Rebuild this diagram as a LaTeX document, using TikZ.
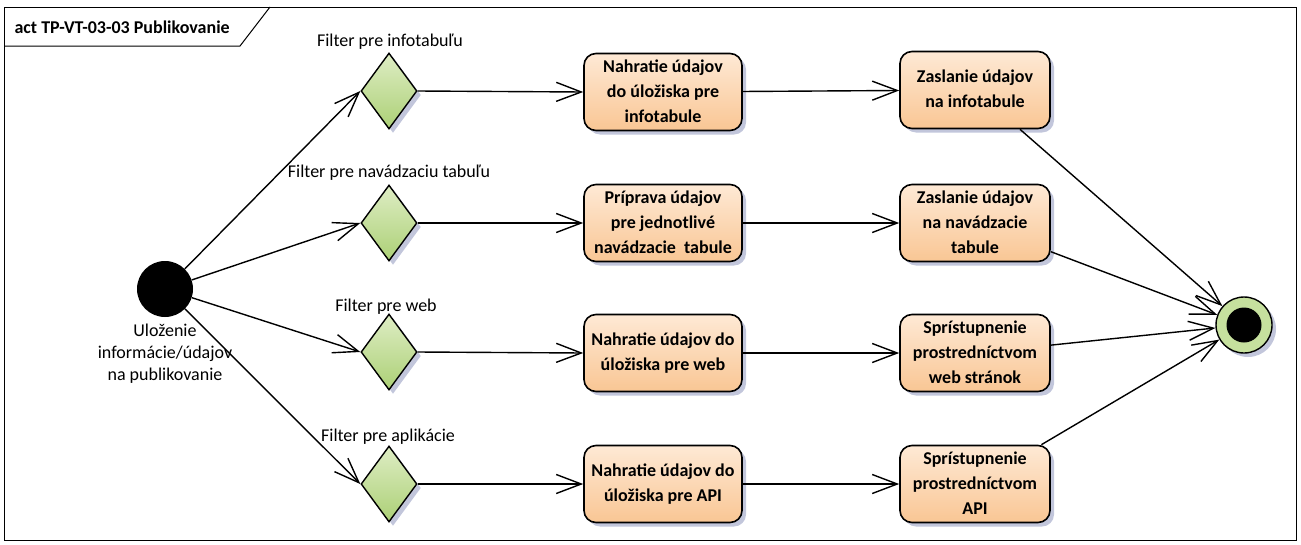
\documentclass[tikz,border=0pt]{standalone}
\usepackage{fontspec}
\setmainfont{Carlito}
\usetikzlibrary{arrows.meta,shapes.geometric,shadows}

\definecolor{boxtop}{RGB}{254,233,213}
\definecolor{boxbot}{RGB}{249,198,148}
\definecolor{dectop}{RGB}{222,237,196}
\definecolor{decbot}{RGB}{172,208,118}
\definecolor{finring}{RGB}{198,224,158}
\definecolor{shadowcol}{RGB}{168,174,204}

\begin{document}
\begin{tikzpicture}[x=1pt,y=-1pt,
  flow/.style={-{Straight Barb[length=25pt,width=19pt,line width=1.4pt]},line width=1.4pt},
  softshadow/.style={drop shadow={shadow xshift=4pt,shadow yshift=-4pt,fill=shadowcol,opacity=0.7}},
  action/.style={draw,line width=1.6pt,rounded corners=12pt,minimum height=77pt,
    inner sep=1pt,align=center,font=\fontsize{18}{25}\selectfont\bfseries,
    text depth=2pt,top color=boxtop,bottom color=boxbot,softshadow},
  actA/.style={action,minimum width=158pt},
  actB/.style={action,minimum width=150pt},
  decision/.style={diamond,draw,line width=1.4pt,inner sep=0pt,aspect=0.74,
    minimum width=56pt,minimum height=76pt,top color=dectop,bottom color=decbot,softshadow},
  guard/.style={font=\fontsize{18}{22}\selectfont},
]
\useasboundingbox (0,0) rectangle (1301,544);

% diagram frame with its name tab
\draw[line width=1pt] (4,7) rectangle (1296,540);
\draw[line width=1pt] (4,46) -- (240,46) -- (270,7);
\node[anchor=west,font=\fontsize{18}{22}\selectfont\bfseries] (title) at (11,27) {act TP-VT-03-03 Publikovanie};

% start and end
\node[circle,fill=black,minimum size=56pt,inner sep=0pt] (ini) at (165,289) {};
\node[align=center,font=\fontsize{18}{22}\selectfont,anchor=north] (inilabel) at (165,320)
  {Uloženie\\informácie/údajov\\na publikovanie};
\node[circle,draw,line width=1.4pt,fill=finring,minimum size=56pt,inner sep=0pt,softshadow] (fin) at (1244,325) {};
\fill (fin.center) circle (17.5);

% decisions
\node[decision] (d1) at (389,91) {};
\node[decision] (d2) at (389,223) {};
\node[decision] (d3) at (389,352) {};
\node[decision] (d4) at (389,484) {};
\node[guard] (g1) at (390,42) {Filter pre infotabuľu};
\node[guard] (g2) at (389,173) {Filter pre navádzaciu tabuľu};
\node[guard] (g3) at (386,307) {Filter pre web};
\node[guard] (g4) at (388,437) {Filter pre aplikácie};

% actions
\node[actA] (a1) at (663,92) {Nahratie údajov\\do úložiska pre\\infotabule};
\node[actA] (a2) at (663,223) {Príprava údajov\\pre jednotlivé\\navádzacie\ \ tabule};
\node[actA] (a3) at (663,353) {Nahratie údajov do\\úložiska pre web};
\node[actA] (a4) at (663,484) {Nahratie údajov do\\úložiska pre API};
\node[actB] (b1) at (975,90) {Zaslanie údajov\\na infotabule};
\node[actB] (b2) at (975,223) {Zaslanie údajov\\na navádzacie\\tabule};
\node[actB] (b3) at (975,353) {Sprístupnenie\\prostredníctvom\\web stránok};
\node[actB] (b4) at (975,484) {Sprístupnenie\\prostredníctvom\\API};

% flows
\foreach \i in {1,2,3,4}{
  \draw[flow] (ini) -- (d\i.west);
  \draw[flow] (d\i.east) -- (a\i.west);
  \draw[flow] (a\i) -- (b\i);
  \draw[flow] (b\i) -- (fin);
}
\end{tikzpicture}
\end{document}
